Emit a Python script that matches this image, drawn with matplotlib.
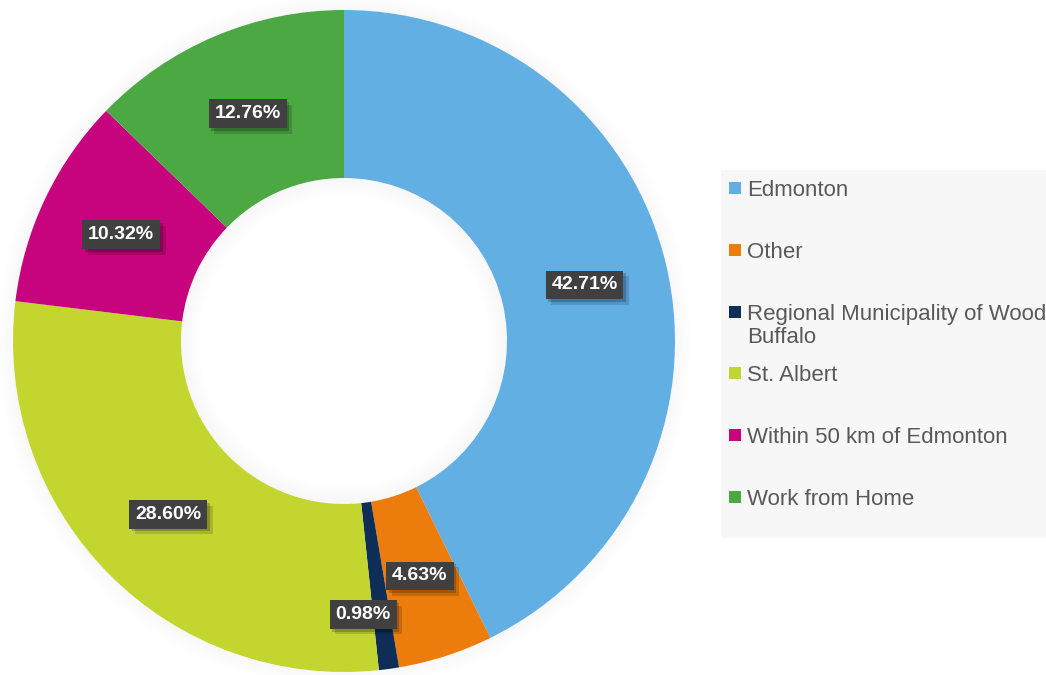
import matplotlib
matplotlib.use("Agg")
import matplotlib.pyplot as plt
from matplotlib.patches import Wedge, Rectangle
import matplotlib.patheffects as pe
import numpy as np

categories = ["Edmonton", "Other", "Regional Municipality of Wood\nBuffalo",
              "St. Albert", "Within 50 km of Edmonton", "Work from Home"]
values = [42.71, 4.63, 0.98, 28.60, 10.32, 12.76]
colors = ["#62AFE4", "#EC7C0B", "#0E2E57", "#C3D62F", "#C7037E", "#4BA843"]

W, H = 1046, 675
fig = plt.figure(figsize=(W / 100, H / 100), dpi=100)
fig.patch.set_facecolor("white")

cx, cy, R = 344, 341, 331
ax = fig.add_axes([(cx - R) / W, (H - cy - R) / H, 2 * R / W, 2 * R / H])
inner = 163 / 331

# outer soft glow
n = 14
for k in range(n):
    dr = 0.0035
    r = 1 + k * dr
    ax.add_patch(Wedge((0, 0), r + dr, 0, 360, width=dr, facecolor="#808080",
                       alpha=0.05 * (1 - k / n), edgecolor="none", clip_on=False, zorder=0))

wedges, _ = ax.pie(values, colors=colors, startangle=90, counterclock=False,
                   radius=1, wedgeprops=dict(width=1 - inner, edgecolor="none"))
for w in wedges:
    w.set_zorder(1)

# inner shadow of the hole
for k in range(n):
    dr = 0.004
    r = inner - k * dr
    ax.add_patch(Wedge((0, 0), r, 0, 360, width=dr, facecolor="#808080",
                       alpha=0.06 * (1 - k / n), edgecolor="none", zorder=2))

ax.set_xlim(-1, 1)
ax.set_ylim(-1, 1)
ax.set_aspect("equal")
ax.axis("off")

# label placement (radius factor, angle offset in degrees)
label_r = [0.746, 0.746, 0.828, 0.746, 0.746, 0.746]
label_dang = [0, 0, -3.8, 0, 0, 0]
for w, v, rr, da in zip(wedges, values, label_r, label_dang):
    ang = np.deg2rad((w.theta1 + w.theta2) / 2 + da)
    x, y = rr * np.cos(ang), rr * np.sin(ang)
    t = ax.text(x, y, f"{v:.2f}%", ha="center", va="center", color="white",
                fontsize=14, fontweight="bold", family="Liberation Sans",
                bbox=dict(boxstyle="square,pad=0.3", fc="#404040", ec="none"), zorder=5)
    t.get_bbox_patch().set_path_effects([
        pe.SimplePatchShadow(offset=(4, -4), shadow_rgbFace="black", alpha=0.15),
        pe.SimplePatchShadow(offset=(2, -2), shadow_rgbFace="black", alpha=0.2),
        pe.Normal()])

# legend (drawn manually to mimic the layout)
fig.patches.append(Rectangle((721 / W, 1 - 538 / H), (W - 721 + 5) / W, (538 - 170) / H,
                             transform=fig.transFigure, facecolor="#F7F7F7",
                             edgecolor="none", zorder=0))
y0, dy = 188, 61.8
for i, (lab, col) in enumerate(zip(categories, colors)):
    yc = y0 + i * dy
    fig.patches.append(Rectangle((729 / W, 1 - (yc + 6) / H), 12 / W, 12 / H,
                                 transform=fig.transFigure, facecolor=col,
                                 edgecolor="none", zorder=1))
    fig.text(747 / W, 1 - (yc - 8) / H, lab, ha="left", va="top", fontsize=16,
             family="Liberation Sans", color="#595959", linespacing=1.15, zorder=2)

fig.savefig("out.png", dpi=100, facecolor="white")
